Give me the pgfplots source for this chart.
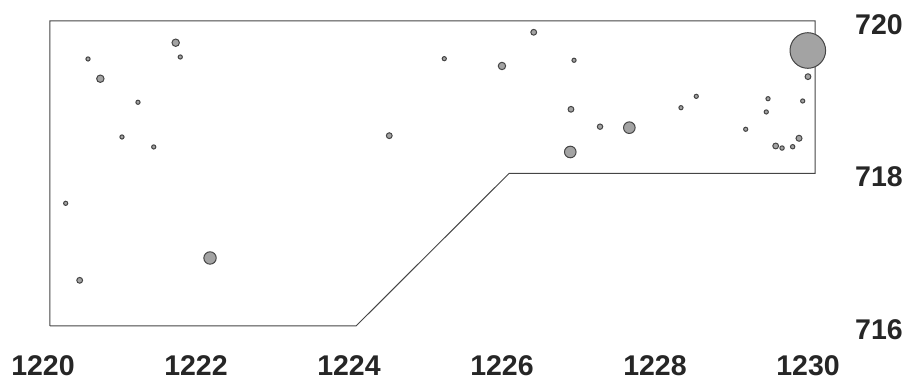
\documentclass[border=0pt]{standalone}
\usepackage{fontspec}
\setmainfont{Liberation Sans}
\usepackage{pgfplots}
\pgfplotsset{compat=1.18}
\definecolor{txt}{HTML}{262626}
\definecolor{edge}{HTML}{454545}
\definecolor{mfill}{HTML}{A3A3A3}
\begin{document}
\begin{tikzpicture}
\begin{axis}[
  at={(0pt,0pt)}, anchor=south west,
  scale only axis, width=765pt, height=305pt,
  xmin=1220, xmax=1230, ymin=716, ymax=720,
  clip=false,
  axis line style={draw=none},
  major tick length=0pt, tick style={draw=none},
  xtick={1220,1222,...,1230},
  ytick={716,718,720},
  scaled ticks=false,
  /pgf/number format/1000 sep={},
  /pgf/number format/assume math mode=true,
  yticklabel pos=right,
  ticklabel style={font=\fontsize{28.5}{30}\selectfont\bfseries, text=txt, inner sep=0pt},
  xticklabel style={anchor=center, xshift=-7pt, yshift=-40pt},
  yticklabel style={anchor=west, xshift=40pt, yshift=-3.5pt},
]
\addplot[draw=edge, line width=1pt, line join=miter, mark=none]
  coordinates {(1220,716) (1224,716) (1226,718) (1230,718) (1230,720) (1220,720) (1220,716)};
\addplot[scatter, only marks, mark=*,
  scatter/use mapped color={draw=edge, fill=mfill},
  mark options={line width=1pt},
  visualization depends on={\thisrow{r} \as \perpointmarksize},
  scatter/@pre marker code/.append style={/tikz/mark size=\perpointmarksize}]
  table {
x y r
1220.497 719.502 2.1
1221.643 719.715 3.7
1221.703 719.528 2.1
1220.658 719.243 3.7
1221.150 718.934 2.1
1220.941 718.479 2.1
1221.356 718.348 2.1
1220.205 717.609 2.1
1220.388 716.599 2.9
1222.092 716.892 6.2
1224.435 718.496 2.9
1225.154 719.506 2.1
1225.908 719.410 3.7
1226.323 719.852 2.9
1226.850 719.485 2.1
1226.810 718.842 2.9
1226.801 718.282 5.8
1227.190 718.614 2.7
1227.573 718.601 5.8
1228.248 718.863 2.1
1228.448 719.012 2.1
1229.094 718.580 2.1
1229.363 718.807 2.1
1229.386 718.981 2.1
1229.486 718.361 2.9
1229.569 718.334 2.2
1229.708 718.351 2.2
1229.791 718.462 3.0
1229.839 718.951 2.1
1229.908 719.270 2.9
1229.906 719.613 17.8
};
\end{axis}
\pgfresetboundingbox
\path[use as bounding box] (-50pt,-59pt) rectangle (859pt,326pt);
\end{tikzpicture}
\end{document}
